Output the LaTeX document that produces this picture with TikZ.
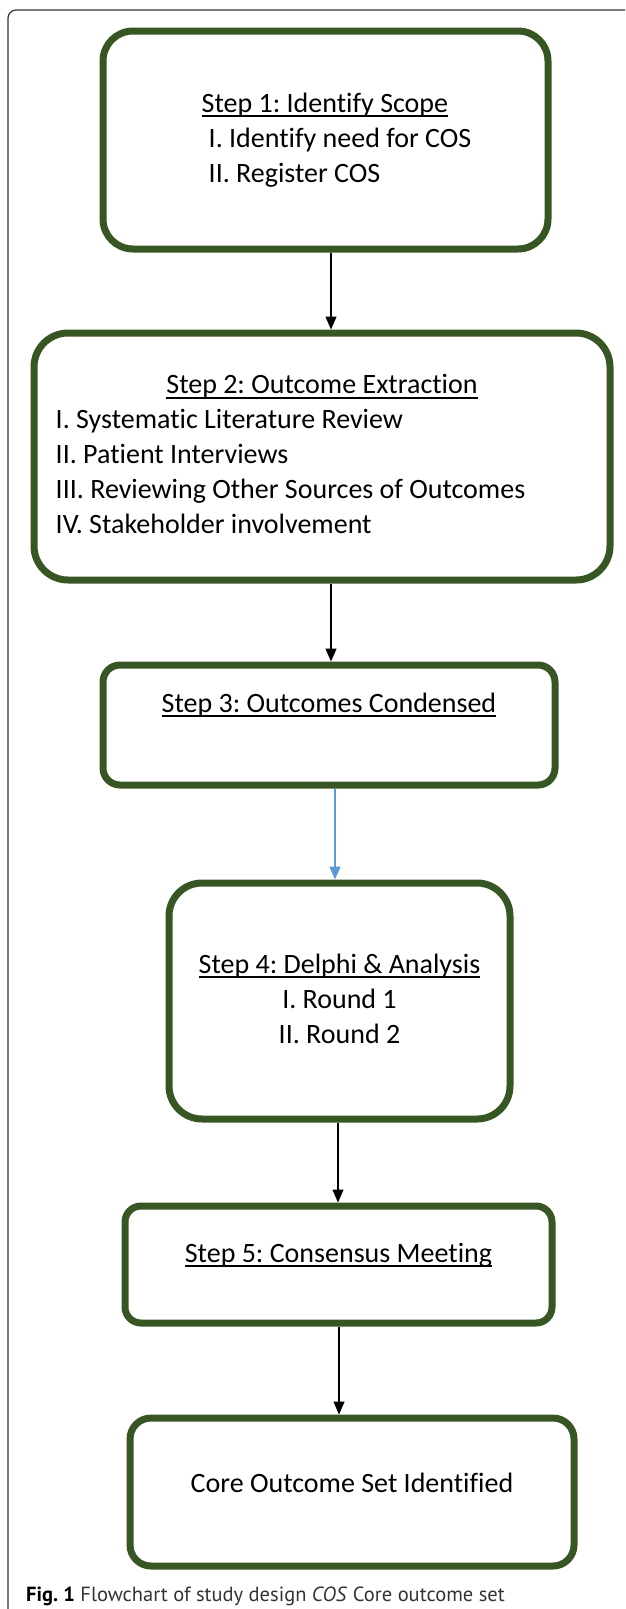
\documentclass[tikz,border=0pt]{standalone}
\usepackage{fontspec}
\setmainfont{Carlito}[Ligatures=NoCommon]
\newfontfamily\capfont{PT Sans}
\usepackage{xcolor}
\usepackage{tikz}
\usetikzlibrary{arrows.meta}
\usetikzlibrary{calc}
\definecolor{boxgreen}{RGB}{56,86,35}
\definecolor{flowblue}{RGB}{91,155,213}
\setlength{\parindent}{0pt}
\frenchspacing
\newcommand{\steptitle}[1]{\setbox0\hbox{#1}\rlap{\rule[-5pt]{\wd0}{1.6pt}}\box0}

\begin{document}
\begin{tikzpicture}[x=1pt,y=-1pt,
	stepbox/.style={draw=boxgreen,line width=7pt,fill=white,font=\fontsize{28}{35}\selectfont},
	arr/.style={line width=1.3pt,-{Triangle[length=13pt,width=11pt]}}]
	\useasboundingbox (0,0) rectangle (625,1609);
	
	% frame of the figure
	\draw[line width=1.2pt,black!80,rounded corners=8pt] (8,1609)--(8,10)--(625,10);
	
	\node[stepbox,rounded corners=30pt,minimum width=445pt,minimum height=218pt] (s1) at (325.5,140)
	{\begin{tabular}{@{\hspace{22pt}}l@{}}
		\steptitle{Step 1: Identify Scope}\\
		\hspace{7pt}I. Identify need for COS\\
		\hspace{7pt}II. Register COS
	\end{tabular}};
	
	\node[stepbox,rounded corners=34pt,minimum width=576pt,minimum height=247pt] (s2) at (322,456.5)
	{\begin{tabular}{@{}l@{\hspace{63pt}}}
		\multicolumn{1}{@{}c@{}}{\steptitle{Step 2: Outcome Extraction}}\\
		I. Systematic Literature Review\\
		II. Patient Interviews\\
		III. Reviewing Other Sources of Outcomes\\
		IV. Stakeholder involvement
	\end{tabular}};
	
	\node[stepbox,rounded corners=17pt,minimum width=452pt,minimum height=120pt,text height=20pt,text depth=46pt] (s3) at (329,725)
	{\steptitle{Step 3: Outcomes Condensed}};
	
	\node[stepbox,rounded corners=33pt,minimum width=341pt,minimum height=236pt] (s4) at (339.5,1001)
	{\begin{tabular}{@{}c@{}}
		\steptitle{Step 4: Delphi \& Analysis}\\
		I. Round 1\\
		II. Round 2
	\end{tabular}};
	
	\node[stepbox,rounded corners=16pt,minimum width=427pt,minimum height=117pt,text height=20pt,text depth=25pt] (s5) at (338.5,1264.5)
	{\steptitle{Step 5: Consensus Meeting}};
	
	\node[stepbox,rounded corners=21pt,minimum width=444pt,minimum height=148pt,text height=20pt,text depth=20pt] (cos) at (352,1492)
	{Core Outcome Set Identified};
	
	% connectors
	\draw[arr] ([xshift=5.5pt]s1.south)--([xshift=5.5pt]s1.south |- s2.north);
	\draw[arr] ([xshift=9pt]s2.south)--([xshift=9pt]s2.south |- s3.north);
	\draw[arr,flowblue,line width=1.8pt] ([xshift=6pt]s3.south)--([xshift=6pt]s3.south |- s4.north);
	\draw[arr] ([xshift=-1.5pt]s4.south)--([xshift=-1.5pt]s4.south |- s5.north);
	\draw[arr] ([xshift=0.5pt]s5.south)--([xshift=0.5pt]s5.south |- cos.north);
	
	\node[anchor=base west,font=\capfont\fontsize{20.5}{24}\selectfont,text=black!80,inner sep=0pt] (cap) at (26,1601)
	{\textcolor{black}{\textbf{Fig. 1}} Flowchart of study design \textit{COS} Core outcome set};
\end{tikzpicture}
\end{document}
